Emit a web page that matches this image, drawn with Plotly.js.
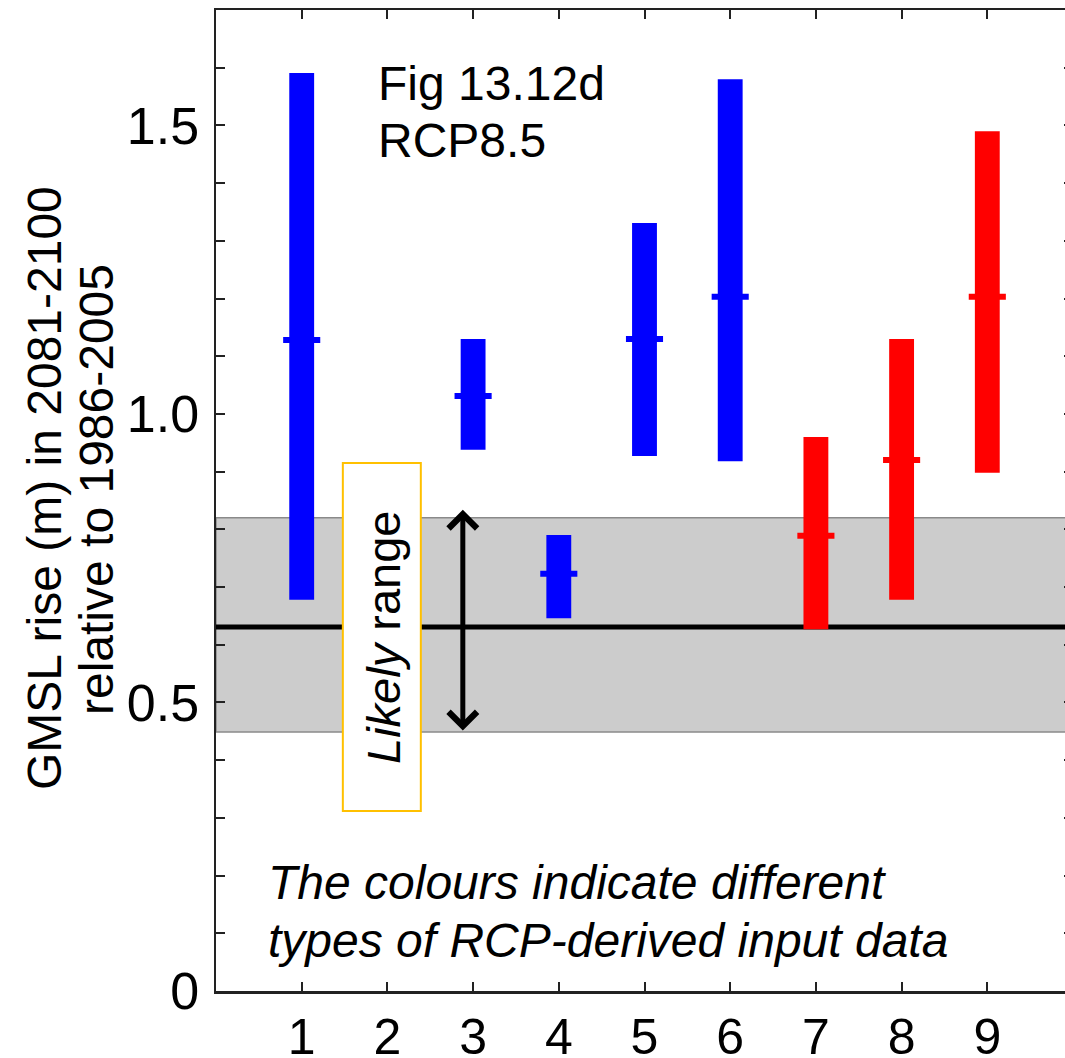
<!DOCTYPE html>
<html>
<head>
<meta charset="utf-8">
<script src="https://cdn.plot.ly/plotly-3.0.1.min.js"></script>
<style>
html,body{margin:0;padding:0;overflow:hidden;background:#fff;}
#chart{width:1080px;height:1058px;}
</style>
</head>
<body>
<div id="chart"></div>
<script>
// ---- data ----
var blueX    = [1, 3, 4, 5, 6];
var blueLow  = [0.678, 0.938, 0.646, 0.927, 0.918];
var blueHigh = [1.591, 1.130, 0.790, 1.331, 1.580];
var blueMed  = [1.128, 1.031, 0.723, 1.130, 1.203];

var redX     = [7, 8, 9];
var redLow   = [0.627, 0.678, 0.898];
var redHigh  = [0.960, 1.130, 1.490];
var redMed   = [0.789, 0.920, 1.203];

var likelyLow = 0.449, likelyHigh = 0.820, likelyMedian = 0.631;

var xTicks = [1, 2, 3, 4, 5, 6, 7, 8, 9];
var yTickVals = [0,0.1,0.2,0.3,0.4,0.5,0.6,0.7,0.8,0.9,1.0,1.1,1.2,1.3,1.4,1.5,1.6,1.7];
var yTickText = ['0','','','','','0.5','','','','','1.0','','','','','1.5','',''];

// annotation geometry (data units)
var boxX = [1.48, 2.39], boxY = [0.312, 0.915];
var arrowX = 2.88, arrowY = [0.449, 0.834];

function diff(h, l){ return h.map(function(v,i){ return v - l[i]; }); }

var FONT = 'Liberation Sans, Arial, sans-serif';
var BLUE = '#0000ff', RED = '#ff0000';

var traces = [
  {type:'bar', x: blueX, base: blueLow, y: diff(blueHigh, blueLow), width: 0.29,
   marker:{color: BLUE, line:{width:0}}, hoverinfo:'skip', showlegend:false},
  {type:'bar', x: redX, base: redLow, y: diff(redHigh, redLow), width: 0.29,
   marker:{color: RED, line:{width:0}}, hoverinfo:'skip', showlegend:false},
  {type:'scatter', mode:'markers', x: blueX, y: blueMed,
   marker:{symbol:'line-ew', size:26.5, color: BLUE, line:{width:6, color: BLUE}}, showlegend:false, hoverinfo:'skip'},
  {type:'scatter', mode:'markers', x: redX, y: redMed,
   marker:{symbol:'line-ew', size:26.5, color: RED, line:{width:6, color: RED}}, showlegend:false, hoverinfo:'skip'}
];

function txt(text, px, py, xanchor, opts){
  var a = {text: text, xref:'paper', yref:'paper', x:0, y:0,
    xshift: px - 216, yshift: 991 - py, xanchor: xanchor, yanchor:'middle',
    showarrow:false, font:{family: FONT, size: 48, color:'#000'}};
  for (var k in (opts||{})) a[k] = opts[k];
  return a;
}

var layout = {
  width: 1080, height: 1058,
  margin: {l: 216, r: 6.5, t: 10, b: 67, pad: 0},
  paper_bgcolor: '#fff', plot_bgcolor: '#fff',
  barmode: 'overlay',
  xaxis: {range: [0, 10], tickvals: xTicks, ticktext: xTicks.map(String),
    ticks: 'inside', ticklen: 9, tickwidth: 2, tickcolor: '#222',
    showline: true, linecolor: '#222', linewidth: 2.5, mirror: 'ticks',
    showgrid: false, zeroline: false, ticklabelstandoff: 0,
    tickfont: {family: FONT, size: 50, color: '#000'}, fixedrange: true},
  yaxis: {range: [0, 1.7], tickvals: yTickVals, ticktext: yTickText,
    ticks: 'inside', ticklen: 9, tickwidth: 2, tickcolor: '#222',
    showline: true, linecolor: '#222', linewidth: 2.5, mirror: 'ticks',
    showgrid: false, zeroline: false, ticklabelstandoff: 4,
    tickfont: {family: FONT, size: 52, color: '#000'}, fixedrange: true},
  shapes: [
    {type:'rect', xref:'paper', yref:'y', x0:0, x1:1, y0: likelyLow, y1: likelyHigh,
     fillcolor:'#cccccc', line:{color:'#8a8a8a', width:1.5}, layer:'below'},
    {type:'line', xref:'paper', yref:'y', x0:0, x1:1, y0: likelyMedian, y1: likelyMedian,
     line:{color:'#000', width:5}, layer:'below'},
    {type:'rect', xref:'x', yref:'y', x0: boxX[0], x1: boxX[1], y0: boxY[0], y1: boxY[1],
     fillcolor:'#ffffff', line:{color:'#ffc000', width:2}, layer:'above'}
  ],
  annotations: [
    txt('GMSL rise (m) in 2081-2100', 44, 488, 'center', {textangle: -90}),
    txt('relative to 1986-2005', 96, 490, 'center', {textangle: -90}),
    txt('Fig 13.12d', 376, 83, 'left'),
    txt('RCP8.5', 376, 140, 'left'),
    txt('<i>The colours indicate different</i>', 266, 882, 'left'),
    txt('<i>types of RCP-derived input data</i>', 266, 940, 'left'),
    txt('<i>Likely</i> range', 383, 638, 'center', {textangle: -90, font:{family: FONT, size: 47, color:'#000'}}),
    {x: arrowX, y: arrowY[1], ax: arrowX, ay: arrowY[0], xref:'x', yref:'y', axref:'x', ayref:'y',
     text:'', showarrow:true, arrowhead:4, startarrowhead:4, arrowside:'end+start',
     arrowwidth:5, arrowsize:1.1, startarrowsize:1.1, arrowcolor:'#000', standoff:0, startstandoff:0}
  ]
};

Plotly.newPlot('chart', traces, layout, {displayModeBar:false, staticPlot:true});
</script>
</body>
</html>
